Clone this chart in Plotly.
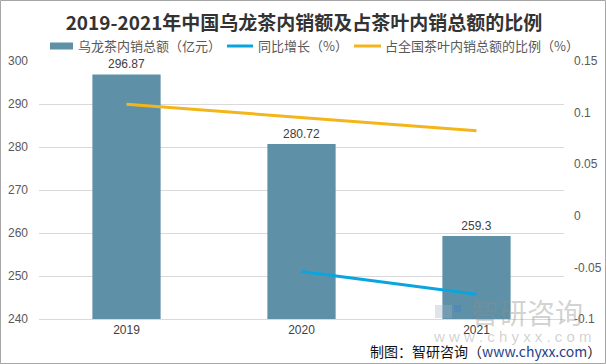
import plotly.graph_objects as go

years = ["2019", "2020", "2021"]
sales = [296.87, 280.72, 259.3]              # 乌龙茶内销总额（亿元）
yoy_years = ["2020", "2021"]
yoy = [-0.054, -0.076]                       # 同比增长（%）
share = [0.108, 0.095, 0.0825]               # 占全国茶叶内销总额的比例（%）
left_ticks = [240, 250, 260, 270, 280, 290, 300]
right_ticks = [-0.1, -0.05, 0, 0.05, 0.1, 0.15]
right_tick_text = ["-0.1", "-0.05", "0", "0.05", "0.1", "0.15"]

BAR = "#5E91A7"
BLUE = "#0AA5DF"
YELLOW = "#F4B51B"
FONT = "Liberation Sans, Noto Sans CJK SC, sans-serif"
CJK = "Noto Sans CJK SC, sans-serif"

fig = go.Figure()
fig.add_trace(go.Bar(x=years, y=sales, width=0.39, marker=dict(color=BAR, line=dict(width=0)),
                     text=[str(v) for v in sales], textposition="outside",
                     textfont=dict(size=12, color="#404040", family=FONT),
                     cliponaxis=False, showlegend=False))
fig.add_trace(go.Scatter(x=yoy_years, y=yoy, mode="lines", yaxis="y2",
                         line=dict(color=BLUE, width=3), showlegend=False))
fig.add_trace(go.Scatter(x=years, y=share, mode="lines", yaxis="y2",
                         line=dict(color=YELLOW, width=3), showlegend=False))

W, H = 606, 364
L, R, T, B = 39, 564, 61, 319
def px(x):
    return (x - L) / (R - L)
def py(y):
    return (B - y) / (B - T)

LEG_Y = 46
shapes = [
    # outer border
    dict(type="rect", xref="paper", yref="paper", x0=px(0.5), x1=px(605.5), y0=py(363.5), y1=py(0.5),
         line=dict(color="#A6A6A6", width=1), fillcolor="rgba(0,0,0,0)", layer="below"),
    # legend markers
    dict(type="rect", xref="paper", yref="paper", x0=px(50), x1=px(73), y0=py(LEG_Y + 3.5), y1=py(LEG_Y - 3.5),
         fillcolor=BAR, line=dict(width=0)),
    dict(type="line", xref="paper", yref="paper", x0=px(227), x1=px(253), y0=py(LEG_Y), y1=py(LEG_Y),
         line=dict(color=BLUE, width=3)),
    dict(type="line", xref="paper", yref="paper", x0=px(354), x1=px(381), y0=py(LEG_Y), y1=py(LEG_Y),
         line=dict(color=YELLOW, width=3)),
    # watermark logo
    dict(type="rect", xref="paper", yref="paper", x0=px(435), x1=px(452), y0=py(318), y1=py(305),
         fillcolor="rgba(160,175,200,0.35)", line=dict(width=0)),
    dict(type="rect", xref="paper", yref="paper", x0=px(454), x1=px(461), y0=py(312), y1=py(305),
         fillcolor="rgba(70,130,200,0.45)", line=dict(width=0)),
]

annotations = [
    dict(text="乌龙茶内销总额（亿元）", x=px(76), y=py(LEG_Y), xref="paper", yref="paper",
         xanchor="left", yanchor="middle", showarrow=False, font=dict(size=13, color="#595959", family=CJK)),
    dict(text="同比增长（%）", x=px(256), y=py(LEG_Y), xref="paper", yref="paper",
         xanchor="left", yanchor="middle", showarrow=False, font=dict(size=13, color="#595959", family=CJK)),
    dict(text="占全国茶叶内销总额的比例（%）", x=px(383), y=py(LEG_Y), xref="paper", yref="paper",
         xanchor="left", yanchor="middle", showarrow=False, font=dict(size=13, color="#595959", family=CJK)),
    # watermark
    dict(text="智研咨询", x=px(527), y=py(312), xref="paper", yref="paper", xanchor="center", yanchor="middle",
         showarrow=False, font=dict(size=28, color="rgba(140,140,140,0.4)", family=CJK)),
    dict(text="w w w . c h y x x . c o m", x=px(512), y=py(336), xref="paper", yref="paper",
         xanchor="center", yanchor="middle", showarrow=False,
         font=dict(size=15, color="rgba(140,140,140,0.4)", family=FONT)),
    # footer
    dict(text="制图：智研咨询（<span style='color:#1F3F8C'>www.chyxx.com</span>）",
         x=px(603), y=py(351), xref="paper", yref="paper", xanchor="right", yanchor="middle",
         showarrow=False, font=dict(size=14, color="#111111", family=CJK)),
]

fig.update_layout(
    width=W, height=H,
    margin=dict(l=L, r=W - R, t=T, b=H - B, pad=0, autoexpand=False),
    paper_bgcolor="white", plot_bgcolor="white",
    title=dict(text="<b>2019-2021年中国乌龙茶内销额及占茶叶内销总额的比例</b>",
               x=304 / W, xanchor="center", y=1 - 23.5 / H, yanchor="middle",
               font=dict(size=19, color="#333333", family=CJK)),
    xaxis=dict(type="category", showgrid=False, showline=True, linecolor="#D9D9D9", linewidth=1,
               ticks="", tickfont=dict(size=12, color="#404040", family=FONT), zeroline=False),
    yaxis=dict(range=[240, 300], tickvals=left_ticks, showgrid=True, gridcolor="#D9D9D9",
               gridwidth=1, zeroline=False, showline=False, ticks="",
               tickfont=dict(size=12, color="#595959", family=FONT), ticklabelstandoff=10),
    yaxis2=dict(range=[-0.1, 0.15], tickvals=right_ticks, ticktext=right_tick_text,
                overlaying="y", side="right", showgrid=False, zeroline=False, showline=False, ticks="",
                tickfont=dict(size=12, color="#595959", family=FONT), ticklabelstandoff=9),
    shapes=shapes, annotations=annotations,
    showlegend=False,
)

fig.write_html("out.html", config={"displayModeBar": False},
               post_script="document.body.style.margin='0';document.body.style.overflow='hidden';")
